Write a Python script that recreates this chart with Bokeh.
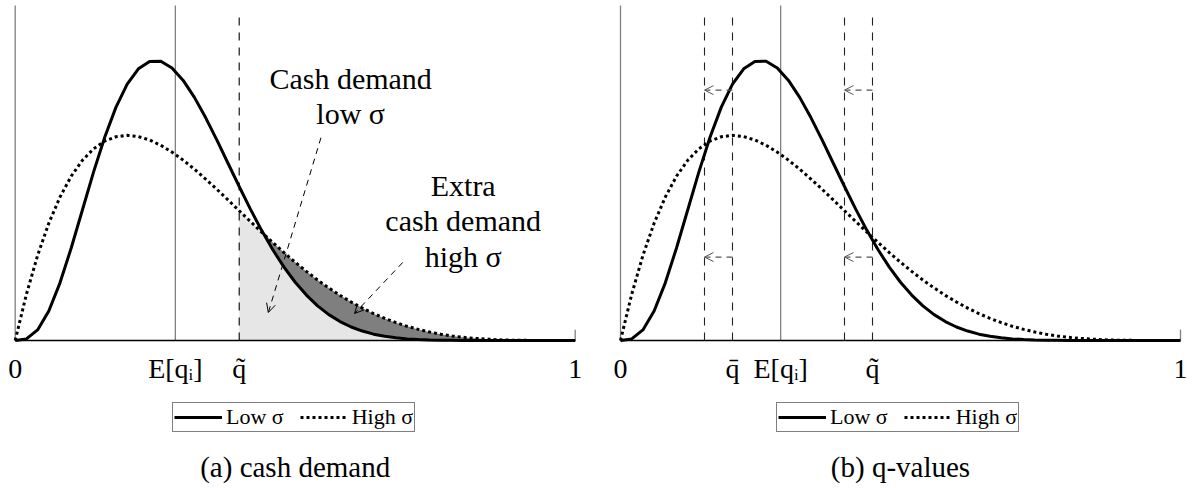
import numpy as np
from bokeh.plotting import figure
from bokeh.layouts import row
from bokeh.models import (Range1d, FixedTicker, ColumnDataSource, Arrow, OpenHead,
                          Label, Legend, LegendItem)
from bokeh.embed import file_html
from bokeh.resources import INLINE

# ---------------- data ----------------
q_values = [0.00, 0.02, 0.04, 0.06, 0.08, 0.10, 0.12, 0.14, 0.16, 0.18,
            0.20, 0.22, 0.24, 0.26, 0.28, 0.30, 0.32, 0.34, 0.36, 0.38,
            0.40, 0.42, 0.44, 0.46, 0.48, 0.50, 0.52, 0.54, 0.56, 0.58,
            0.60, 0.62, 0.64, 0.66, 0.68, 0.70, 0.72, 0.74, 0.76, 0.78,
            0.80, 0.82, 0.84, 0.86, 0.88, 0.90, 0.92, 0.94, 0.96, 0.98, 1.00]
density_low = [0.000, 0.019, 0.127, 0.354, 0.691, 1.108, 1.564, 2.020, 2.439, 2.796,
               3.071, 3.255, 3.344, 3.345, 3.265, 3.116, 2.913, 2.671, 2.404, 2.124,
               1.845, 1.574, 1.320, 1.087, 0.879, 0.698, 0.544, 0.415, 0.310, 0.227,
               0.162, 0.113, 0.076, 0.050, 0.032, 0.019, 0.011, 0.006, 0.003, 0.002,
               0.001, 0.000, 0.000, 0.000, 0.000, 0.000, 0.000, 0.000, 0.000, 0.000, 0.000]
density_high = [0.000, 0.553, 1.019, 1.405, 1.719, 1.968, 2.159, 2.297, 2.390, 2.441,
                2.458, 2.443, 2.402, 2.339, 2.257, 2.161, 2.053, 1.935, 1.812, 1.684,
                1.555, 1.426, 1.298, 1.173, 1.053, 0.938, 0.828, 0.725, 0.630, 0.541,
                0.461, 0.388, 0.322, 0.265, 0.214, 0.170, 0.133, 0.101, 0.076, 0.055,
                0.038, 0.026, 0.017, 0.010, 0.005, 0.003, 0.001, 0.000, 0.000, 0.000, 0.000]

mean_q = 0.286          # E[q_i]
q_tilde_a = 0.40        # panel (a) threshold
q_bar = 0.20            # panel (b)
q_tilde_b = 0.45        # panel (b)
q_bar_shift = 0.15
q_tilde_shift = 0.40
arrow_levels = [3.0, 1.0]

ticks_a = [0, 0.286, 0.4, 1]
labels_a = ["0", "E[qᵢ]", "q̃", "1"]
ticks_b = [0, 0.2, 0.286, 0.45, 1]
labels_b = ["0", "q̄", "E[qᵢ]", "q̃", "1"]

legend_labels = ["Low σ", "High σ"]
captions = ["(a) cash demand", "(b) q-values"]

# ---------------- styling ----------------
SERIF = "Liberation Serif"
GRAY = "#808080"
PX_PER_UNIT = 83.46
HEIGHT = 486
BASE_Y = 340
Y_TOP = BASE_Y / PX_PER_UNIT
Y_BOT = -(HEIGHT - BASE_Y) / PX_PER_UNIT
AXIS_TOP = 4.014
LINE_TOP = 3.93


def base_figure(width, zero_px):
    x0 = -zero_px / 560.0
    x1 = (width - zero_px) / 560.0
    p = figure(width=width, height=HEIGHT, output_backend="svg", toolbar_location=None,
               x_range=Range1d(x0, x1), y_range=Range1d(Y_BOT, Y_TOP),
               y_axis_location=None, min_border_left=0,
               min_border_right=0, min_border_top=0, min_border_bottom=0)
    p.outline_line_color = None
    p.grid.visible = False
    p.background_fill_color = "white"
    p.border_fill_color = "white"
    return p


def style_axis(p, ticks, labels):
    ax = p.xaxis[0]
    ax.fixed_location = 0
    ax.bounds = (0, 1)
    ax.ticker = FixedTicker(ticks=ticks)
    ax.major_label_overrides = {t: l for t, l in zip(ticks, labels)}
    ax.axis_line_color = "black"
    ax.axis_line_width = 1.4
    ax.major_tick_line_color = None
    ax.minor_tick_line_color = None
    ax.major_label_text_font = SERIF
    ax.major_label_text_font_size = "28px"
    ax.major_label_text_color = "black"
    ax.major_label_standoff = 6


def curves(p):
    low = p.line(q_values, density_low, line_color="black", line_width=3)
    high = p.line(q_values, density_high, line_color="black", line_width=3,
                  line_dash="3 3")
    return low, high


def add_legend(p, low, high, x_loc):
    lg = Legend(items=[LegendItem(label=legend_labels[0], renderers=[low]),
                       LegendItem(label=legend_labels[1], renderers=[high])],
                orientation="horizontal", location=(x_loc, HEIGHT - 432), margin=0,
                padding=1, spacing=16, label_standoff=4, glyph_width=48,
                glyph_height=20, label_height=20,
                label_text_font=SERIF, label_text_font_size="22px",
                label_text_color="black",
                border_line_color="black", border_line_width=1,
                background_fill_color="white", background_fill_alpha=1.0)
    p.add_layout(lg)


def add_caption(p, text):
    p.add_layout(Label(x=0.5, y=-1.51, text=text, text_align="center",
                       text_baseline="alphabetic", text_font=SERIF,
                       text_font_size="29px", text_color="black"))


q_arr = np.array(q_values)
low_arr = np.array(density_low)
high_arr = np.array(density_high)

# ================= panel (a) =================
p1 = base_figure(600, 14.7)

tail = q_arr >= q_tilde_a
p1.varea(x=q_arr[tail], y1=0, y2=np.minimum(low_arr, high_arr)[tail],
         fill_color="#e6e6e6")
extra = q_arr >= 0.44
p1.varea(x=q_arr[extra], y1=low_arr[extra], y2=np.maximum(low_arr, high_arr)[extra],
         fill_color="#7f7f7f")

p1.segment(x0=[0, mean_q], y0=[0, 0], x1=[0, mean_q], y1=[AXIS_TOP, AXIS_TOP],
           line_color=GRAY, line_width=1.3)
p1.segment(x0=[1], y0=[0], x1=[1], y1=[0.13], line_color=GRAY, line_width=1.3)
p1.segment(x0=[q_tilde_a], y0=[0], x1=[q_tilde_a], y1=[LINE_TOP],
           line_color="black", line_width=1.1, line_dash="8 7")

low1, high1 = curves(p1)

ann_src = ColumnDataSource(dict(x0=[0.546, 0.692], y0=[2.43, 0.935],
                                x1=[0.452, 0.606], y1=[0.335, 0.324]))
p1.add_layout(Arrow(end=OpenHead(size=9, line_width=1, line_color="black"),
                    x_start="x0", y_start="y0", x_end="x1", y_end="y1",
                    source=ann_src, line_color="black", line_width=1,
                    line_dash="6 5"))

for txt, yy in [("Cash demand", 3.143), ("low σ", 2.72)]:
    p1.add_layout(Label(x=0.599, y=yy, text=txt, text_align="center",
                        text_baseline="alphabetic", text_font=SERIF,
                        text_font_size="30px", text_color="black"))
for txt, yy in [("Extra", 1.857), ("cash demand", 1.438), ("high σ", 1.006)]:
    p1.add_layout(Label(x=0.80, y=yy, text=txt, text_align="center",
                        text_baseline="alphabetic", text_font=SERIF,
                        text_font_size="30px", text_color="black"))

style_axis(p1, ticks_a, labels_a)
add_legend(p1, low1, high1, 172)
add_caption(p1, captions[0])

# ================= panel (b) =================
p2 = base_figure(590, 20)

p2.segment(x0=[0, mean_q], y0=[0, 0], x1=[0, mean_q], y1=[AXIS_TOP, AXIS_TOP],
           line_color=GRAY, line_width=1.3)
p2.segment(x0=[1], y0=[0], x1=[1], y1=[0.13], line_color=GRAY, line_width=1.3)
dash_x = [q_bar_shift, q_bar, q_tilde_shift, q_tilde_b]
p2.segment(x0=dash_x, y0=[0] * 4, x1=dash_x, y1=[LINE_TOP] * 4,
           line_color="#222222", line_width=1.1, line_dash="8 7")

arr_src = ColumnDataSource(dict(
    x0=[q_bar, q_tilde_b, q_bar, q_tilde_b],
    x1=[q_bar_shift, q_tilde_shift, q_bar_shift, q_tilde_shift],
    y=[arrow_levels[0], arrow_levels[0], arrow_levels[1], arrow_levels[1]]))
p2.add_layout(Arrow(end=OpenHead(size=9, line_width=1, line_color="#555555"),
                    x_start="x0", y_start="y", x_end="x1", y_end="y",
                    source=arr_src, line_color="#555555", line_width=1.2,
                    line_dash="6 5"))

low2, high2 = curves(p2)

style_axis(p2, ticks_b, labels_b)
add_legend(p2, low2, high2, 176)
add_caption(p2, captions[1])

layout = row(p1, p2)
open("out.html", "w").write(file_html(layout, INLINE))
